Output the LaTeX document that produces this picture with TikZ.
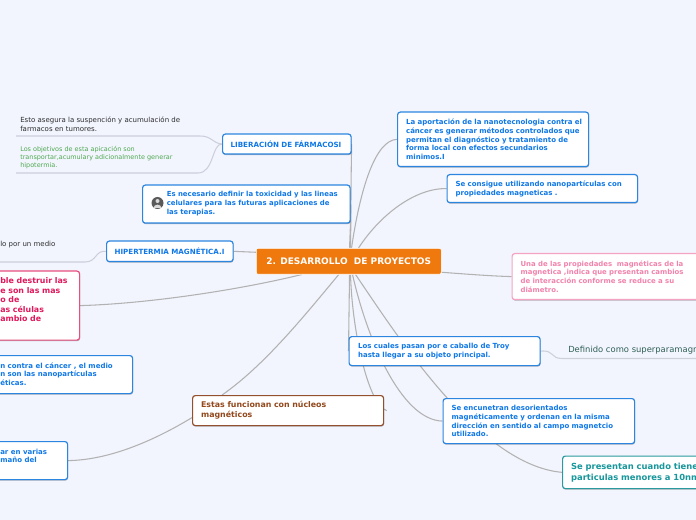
\documentclass[tikz,border=0pt]{standalone}
\usepackage{fontspec}
\setmainfont{DejaVu Sans}
\usetikzlibrary{shadows,backgrounds}
\newcommand\pxu{0.75pt}
\newcommand\lin[1]{\mbox{#1}}
\definecolor{bgc}{HTML}{F2F5FE}
\definecolor{bluec}{HTML}{2C86E0}
\definecolor{bluet}{HTML}{0F78E6}
\definecolor{pinkb}{HTML}{F4A3C2}
\definecolor{pinkt}{HTML}{F282AC}
\definecolor{redb}{HTML}{E84E7E}
\definecolor{redt}{HTML}{E0185C}
\definecolor{brownb}{HTML}{94502E}
\definecolor{brownt}{HTML}{93481C}
\definecolor{tealb}{HTML}{2A9A9E}
\definecolor{tealt}{HTML}{17979B}
\definecolor{oran}{HTML}{EF790D}
\definecolor{lineg}{HTML}{B2B2B2}
\definecolor{linel}{HTML}{CDD0DA}
\definecolor{greent}{HTML}{4FA84F}
\definecolor{darkt}{HTML}{2E2E2E}
\definecolor{deft}{HTML}{2F5F55}
\tikzset{
 x=0.75pt,y=-0.75pt,
 boxbase/.style={draw,fill=white,rounded corners=2pt,line width=0.9pt,
   drop shadow={shadow xshift=0.3pt,shadow yshift=-0.8pt,opacity=.28,fill=black},
   align=left,inner ysep=0pt,anchor=north west},
 bluebox/.style={boxbase,draw=bluec,text=bluet,font=\fontsize{5.25}{6.55}\selectfont\bfseries},
 capsbox/.style={bluebox,font=\fontsize{5.35}{6.55}\selectfont\bfseries},
 pinkbox/.style={boxbase,draw=pinkb,text=pinkt,font=\fontsize{5.2}{6.55}\selectfont\bfseries},
 redbox/.style={boxbase,draw=redb},
 brownbox/.style={boxbase,draw=brownb,text=brownt,font=\fontsize{5.9}{7.5}\selectfont\bfseries},
 tealbox/.style={boxbase,draw=tealb,text=tealt,font=\fontsize{6.3}{8.25}\selectfont\bfseries},
 bluetxt/.style={text=bluet,font=\fontsize{5.25}{6.55}\selectfont\bfseries,align=left,inner sep=0pt,anchor=west},
 redtxt/.style={text=redt,font=\fontsize{5.9}{7.15}\selectfont\bfseries,align=left,inner sep=0pt,anchor=west},
 plain/.style={font=\fontsize{5.25}{6.4}\selectfont,align=left,inner sep=0pt,anchor=west},
 conn/.style={draw=lineg,line width=0.8pt},
 subconn/.style={draw=linel,line width=0.8pt},
}
\begin{document}
\begin{tikzpicture}
\useasboundingbox (0,0) rectangle (696,520);
\clip (0,0) rectangle (696,520);
% ---- nodes
\node[capsbox,inner xsep=8*\pxu,text width=112.5*\pxu,minimum height=20*\pxu] (lib) at (222,133.5) {\lin{LIBERACIÓN DE FÁRMACOSI}};
\node[bluebox,minimum width=207.5*\pxu,minimum height=38*\pxu] (nec) at (142,184.5) {};
\node[capsbox,inner xsep=8*\pxu,text width=110.5*\pxu,minimum height=20.5*\pxu] (hip) at (106,240.5) {\lin{HIPERTERMIA MAGNÉTICA.I}};
\node[redbox,minimum width=179*\pxu,minimum height=69*\pxu] (red) at (-100,270.5) {};
\node[bluebox,minimum width=232*\pxu,minimum height=38*\pxu] (blueA) at (-100,355) {};
\node[bluebox,minimum width=167*\pxu,minimum height=38*\pxu] (blueB) at (-100,441) {};
\node[brownbox,inner xsep=8.5*\pxu,text width=174*\pxu,minimum height=30*\pxu] (bro) at (192,395) {\lin{Estas funcionan con núcleos}\\\lin{magnéticos}};
\node[bluebox,inner xsep=8.5*\pxu,text width=174*\pxu,minimum height=54.5*\pxu] (apo) at (397,111.5) {\lin{La aportación de la nanotecnologia contra el}\\\lin{cáncer es generar métodos controlados que}\\\lin{permitan el diagnóstico y tratamiento de}\\\lin{forma local con efectos secundarios}\\\lin{minimos.I}};
\node[bluebox,inner xsep=8.5*\pxu,text width=173.5*\pxu,minimum height=28*\pxu] (con) at (446.5,174) {\lin{Se consigue utilizando nanopartículas con}\\\lin{propiedades magneticas .}};
\node[pinkbox,inner xsep=8.5*\pxu,text width=260*\pxu,minimum height=46*\pxu] (pro) at (511.5,253) {\lin{Una de las propiedades\ \ magnéticas de la}\\\lin{magnetica ,indica que presentan cambios}\\\lin{de interacción conforme se reduce a su}\\\lin{diámetro.}};
\node[bluebox,inner xsep=9*\pxu,text width=173*\pxu,minimum height=29*\pxu] (tro) at (348.5,336) {\lin{Los cuales pasan por e caballo de Troy}\\\lin{hasta llegar a su objeto principal.}};
\node[bluebox,inner xsep=8.5*\pxu,text width=174.5*\pxu,minimum height=45*\pxu] (enc) at (442.5,398) {\lin{Se encunetran desorientados}\\\lin{magnéticamente y ordenan en la misma}\\\lin{dirección en sentido al campo magnetcio}\\\lin{utilizado.}};
\node[tealbox,inner xsep=8.5*\pxu,text width=260*\pxu,minimum height=32.5*\pxu] (tea) at (562,455.5) {\lin{Se presentan cuando tiene}\\\lin{particulas menores a 10nm}};
\node[draw=white,fill=oran,rounded corners=1.5pt,line width=0.4pt,anchor=north west,minimum width=185*\pxu,minimum height=26*\pxu,inner sep=0pt,text=white,font=\fontsize{6.75}{7}\selectfont\bfseries] (root) at (256,248) {2. DESARROLLO\ \ DE PROYECTOS};
% free ends of the secondary branches
\coordinate (endA) at (16,136);
\coordinate (endB) at (16,173);
\coordinate (endC) at (-5,262);
\coordinate (endD) at (700,358.5);
% ---- connectors and page colour, under the boxes
\begin{scope}[on background layer]
\clip (0,0) rectangle (696,520);
\fill[bgc] (0,0) rectangle (696,520);
\draw[conn] (lib.east) .. controls (351,170) and (351,210) .. ([xshift=-91*\pxu]root.north east);
\draw[conn] (nec.east) .. controls (351,215) and (350,235) .. ([xshift=-92*\pxu]root.north east);
\draw[conn] (apo.west) .. controls (375,140) and (360,190) .. ([xshift=-90*\pxu]root.north east);
\draw[conn] (con.west) .. controls (415,188) and (380,215) .. ([xshift=-83*\pxu]root.north east);
\draw[conn] (hip.east) -- ([yshift=9*\pxu]root.west);
\draw[conn] ([yshift=-11*\pxu]root.east) .. controls (465,274) and (490,276) .. (pro.west);
\draw[conn] (red.east) .. controls (140,304) and (230,292) .. ([xshift=-47*\pxu]root.south);
\draw[conn] ([xshift=-10*\pxu]root.south) .. controls (305,315) and (265,365) .. ([xshift=-66*\pxu]bro.north);
\draw[conn] (blueB.east) .. controls (110,460) and (155,440) .. ([yshift=-7*\pxu]bro.west);
\draw[conn] ([xshift=-92*\pxu]root.south east) -- ([yshift=0pt]tro.west);
\draw[conn] ([xshift=-91*\pxu]root.south east) .. controls (352,330) and (368,405) .. ([xshift=2.5*\pxu]bro.east);
\draw[conn] ([xshift=-89*\pxu]root.south east) .. controls (366,335) and (400,420) .. (enc.west);
\draw[conn] ([xshift=-86*\pxu]root.south east) .. controls (400,340) and (480,465) .. (tea.west);
\draw[subconn] (lib.west) .. controls (212,143) and (212,136) .. (200,136) -- (endA);
\draw[subconn] (lib.west) .. controls (212,143) and (214,173) .. (198,173) -- (endB);
\draw[subconn] (hip.west) .. controls (95,250) and (97,262) .. (85,262) -- (endC);
\draw[subconn] (tro.east) .. controls (555,350) and (550,358.5) .. (562,358.5) -- (endD);
\end{scope}
% ---- separate texts
\node[bluetxt,font=\fontsize{5.2}{6.55}\selectfont\bfseries] (necT) at (166.5,203.5) {Es necesario definir la toxicidad y las lineas\\celulares para las futuras aplicaciones de\\las terapias.};
\node[circle,fill=black!65,minimum size=12*\pxu,inner sep=0pt] (ico) at (157.5,203) {};
\fill[black!15] (157.5,201) circle (2);
\fill[black!15] (153.5,208) .. controls (154,203.5) and (161,203.5) .. (161.5,208) -- cycle;
\node[redtxt] (redT) at (0,300) {ble destruir las\\e son las mas\\o de\\as células\\ambio de};
\node[bluetxt] (bAT) at (0,374) {n contra el cáncer , el medio\\n son las nanopartículas\\éticas.};
\node[bluetxt] (bBT) at (0,456) {ar en varias\\maño del};
\node[plain,text=darkt] (t1) at (20,124.5) {Esto asegura la suspención y acumulación de\\farmacos en tumores.};
\node[plain,text=greent,font=\fontsize{4.85}{6.2}\selectfont] (t2) at (20,157.5) {Los objetivos de esta apicación son\\transportar,acumulary adicionalmente generar\\hipotermia.};
\node[plain,text=darkt] (t3) at (0,245) {lo por un medio};
\node[plain,text=deft,font=\fontsize{6.3}{7}\selectfont] (t4) at (568,350) {Definido como superparamagn};
\end{tikzpicture}
\end{document}
